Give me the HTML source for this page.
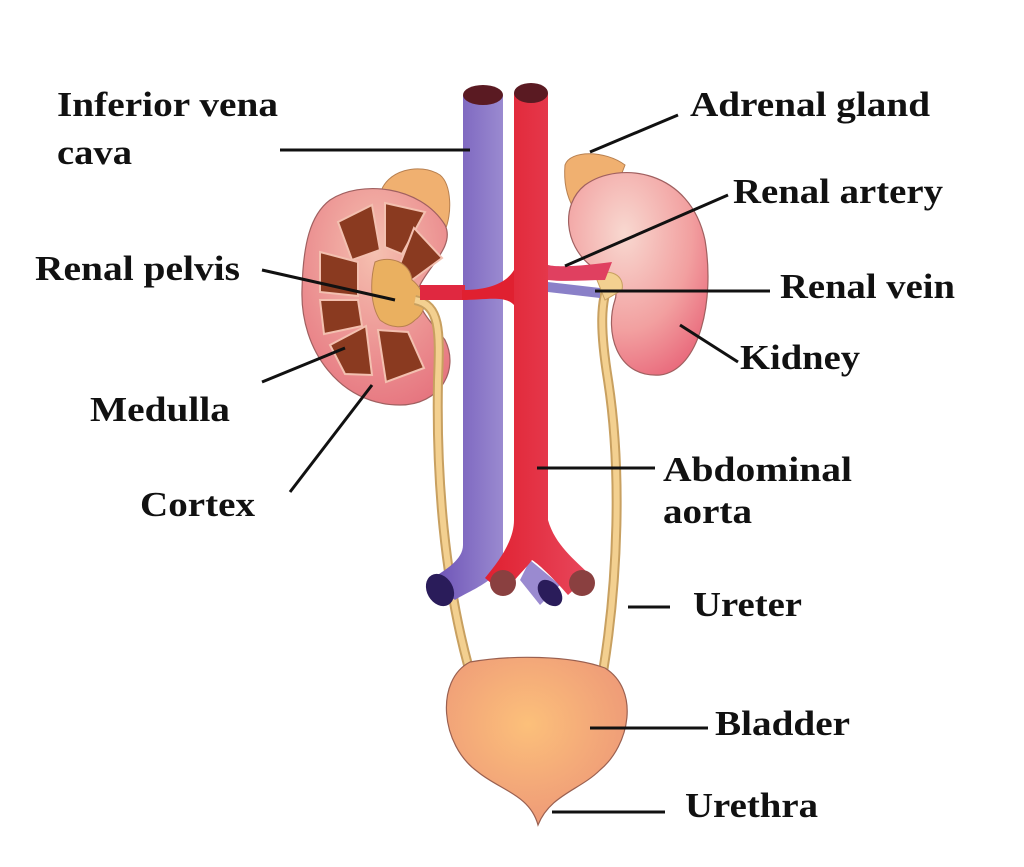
<!DOCTYPE html>
<html><head><meta charset="utf-8"><style>
body{margin:0;background:#fff;}
svg{display:block}
text{font-family:"Liberation Serif",serif;font-weight:bold;font-size:35px;fill:#111}
</style></head><body>
<svg width="1024" height="867" viewBox="0 0 1024 867" xmlns="http://www.w3.org/2000/svg">
<defs>
<linearGradient id="vc" x1="0" x2="1"><stop offset="0" stop-color="#6a4fb5"/><stop offset="1" stop-color="#9a8ad0"/></linearGradient>
<linearGradient id="ao" x1="0" x2="1"><stop offset="0" stop-color="#e02030"/><stop offset="1" stop-color="#e8475c"/></linearGradient>
<radialGradient id="kid" cx="0.4" cy="0.3" r="0.8"><stop offset="0" stop-color="#f8d8d0"/><stop offset="0.6" stop-color="#f2a0a0"/><stop offset="1" stop-color="#e86478"/></radialGradient>
<radialGradient id="bl" cx="0.45" cy="0.4" r="0.6"><stop offset="0" stop-color="#fcc07a"/><stop offset="1" stop-color="#ee9a78"/></radialGradient>
<radialGradient id="lk" cx="0.5" cy="0.3" r="0.8"><stop offset="0" stop-color="#f5c0b0"/><stop offset="1" stop-color="#e5707c"/></radialGradient>
</defs>
<!-- adrenal glands -->
<path d="M380,195 C385,170 420,162 440,175 C452,185 452,215 445,230 L390,210 Z" fill="#f0b070" stroke="#b88050" stroke-width="1"/>
<path d="M565,165 C570,150 605,150 625,165 L600,230 C580,225 562,200 565,165 Z" fill="#f0b070" stroke="#b88050" stroke-width="1"/>
<!-- right kidney -->
<path d="M585,185 C620,160 690,170 705,240 C715,300 700,370 660,375 C615,378 605,330 615,300 C620,285 605,275 590,265 C565,245 560,205 585,185 Z" fill="url(#kid)" stroke="#a06060" stroke-width="1.2"/>
<!-- left kidney -->
<path d="M330,200 C360,180 420,185 445,225 C455,245 430,265 420,285 C412,305 430,320 445,340 C460,370 440,405 400,405 C340,405 300,350 302,290 C303,245 310,215 330,200 Z" fill="url(#lk)" stroke="#a06060" stroke-width="1.2"/>
<!-- medulla pyramids -->
<g fill="#8a3a20" stroke="#f3c0b0" stroke-width="2">
<path d="M338,222 L372,205 L380,250 L352,260 Z"/>
<path d="M385,203 L425,212 L402,254 L385,247 Z"/>
<path d="M414,228 L442,258 L412,280 L400,264 Z"/>
<path d="M320,252 L358,262 L358,296 L320,292 Z"/>
<path d="M320,300 L358,300 L362,326 L324,334 Z"/>
<path d="M330,345 L366,326 L372,375 L345,374 Z"/>
<path d="M378,330 L408,332 L424,368 L386,382 Z"/>
</g>
<!-- pelvis -->
<path d="M375,262 C390,255 410,262 412,280 C425,290 430,310 415,320 C405,330 390,328 380,320 C370,305 370,280 375,262 Z" fill="#eab060" stroke="#b88050"/>
<!-- ureters -->
<path d="M415,300 C440,305 440,330 438,380 C436,480 445,580 468,665" fill="none" stroke="#c8a060" stroke-width="10"/>
<path d="M415,300 C440,305 440,330 438,380 C436,480 445,580 468,665" fill="none" stroke="#f3d090" stroke-width="6"/>
<path d="M610,280 C600,300 600,330 608,380 C622,470 618,580 603,672" fill="none" stroke="#c8a060" stroke-width="10"/>
<path d="M610,280 C600,300 600,330 608,380 C622,470 618,580 603,672" fill="none" stroke="#f3d090" stroke-width="6"/>
<path d="M595,275 C610,268 625,275 622,290 L605,300 Z" fill="#f3d090" stroke="#c8a060"/>
<!-- vena cava -->
<path d="M463,95 L503,95 L503,555 C503,580 470,590 455,600 L430,580 C445,570 463,560 463,545 Z" fill="url(#vc)"/>
<ellipse cx="440" cy="590" rx="13" ry="17" fill="#2a1c5a" transform="rotate(-30 440 590)"/>
<path d="M530,560 L560,585 L540,605 L520,580 Z" fill="#9a8ad0"/>
<ellipse cx="550" cy="593" rx="10" ry="15" fill="#2a1c5a" transform="rotate(-40 550 593)"/>
<ellipse cx="483" cy="95" rx="20" ry="10" fill="#5a1a22"/>
<!-- renal veins -->
<path d="M420,285 L465,285 L465,300 L420,300 Z" fill="#e02840"/>
<path d="M548,282 L600,288 L600,298 L548,292 Z" fill="#8a80c8"/>
<!-- aorta -->
<path d="M514,93 L548,93 L548,520 C555,545 575,560 590,575 L568,595 C555,580 540,565 532,560 C525,570 512,580 505,595 L485,578 C500,560 514,540 514,520 Z" fill="url(#ao)"/>
<ellipse cx="531" cy="93" rx="17" ry="10" fill="#5a1a22"/>
<ellipse cx="503" cy="583" rx="13" ry="13" fill="#8a4040"/>
<ellipse cx="582" cy="583" rx="13" ry="13" fill="#8a4040"/>
<path d="M462,290 C485,290 505,285 514,270 L514,305 C505,295 485,300 462,300 Z" fill="#e02030"/>
<path d="M548,265 C560,268 590,265 612,262 L605,280 C585,280 565,282 548,280 Z" fill="#e04060"/>
<!-- bladder -->
<path d="M470,662 C510,655 570,655 605,668 C640,690 630,745 600,770 C580,790 550,795 538,825 C530,795 500,790 478,772 C440,745 435,680 470,662 Z" fill="url(#bl)" stroke="#9a6050" stroke-width="1.2"/>
<!-- leader lines -->
<g stroke="#111" stroke-width="3">
<line x1="280" y1="150" x2="470" y2="150"/>
<line x1="590" y1="152" x2="678" y2="115"/>
<line x1="565" y1="266" x2="728" y2="195"/>
<line x1="595" y1="291" x2="770" y2="291"/>
<line x1="680" y1="325" x2="738" y2="362"/>
<line x1="262" y1="270" x2="395" y2="300"/>
<line x1="262" y1="382" x2="345" y2="348"/>
<line x1="290" y1="492" x2="372" y2="385"/>
<line x1="537" y1="468" x2="655" y2="468"/>
<line x1="628" y1="607" x2="670" y2="607"/>
<line x1="590" y1="728" x2="708" y2="728"/>
<line x1="552" y1="812" x2="665" y2="812"/>
</g>
<text x="57" y="116" textLength="221" lengthAdjust="spacingAndGlyphs">Inferior vena</text>
<text x="57" y="164" textLength="75" lengthAdjust="spacingAndGlyphs">cava</text>
<text x="690" y="116" textLength="240" lengthAdjust="spacingAndGlyphs">Adrenal gland</text>
<text x="733" y="203" textLength="210" lengthAdjust="spacingAndGlyphs">Renal artery</text>
<text x="780" y="298" textLength="175" lengthAdjust="spacingAndGlyphs">Renal vein</text>
<text x="740" y="369" textLength="120" lengthAdjust="spacingAndGlyphs">Kidney</text>
<text x="35" y="280" textLength="205" lengthAdjust="spacingAndGlyphs">Renal pelvis</text>
<text x="90" y="421" textLength="140" lengthAdjust="spacingAndGlyphs">Medulla</text>
<text x="140" y="516" textLength="115" lengthAdjust="spacingAndGlyphs">Cortex</text>
<text x="663" y="481" textLength="189" lengthAdjust="spacingAndGlyphs">Abdominal</text>
<text x="663" y="523" textLength="89" lengthAdjust="spacingAndGlyphs">aorta</text>
<text x="693" y="616" textLength="109" lengthAdjust="spacingAndGlyphs">Ureter</text>
<text x="715" y="735" textLength="135" lengthAdjust="spacingAndGlyphs">Bladder</text>
<text x="685" y="817" textLength="133" lengthAdjust="spacingAndGlyphs">Urethra</text>
</svg>
</body></html>
